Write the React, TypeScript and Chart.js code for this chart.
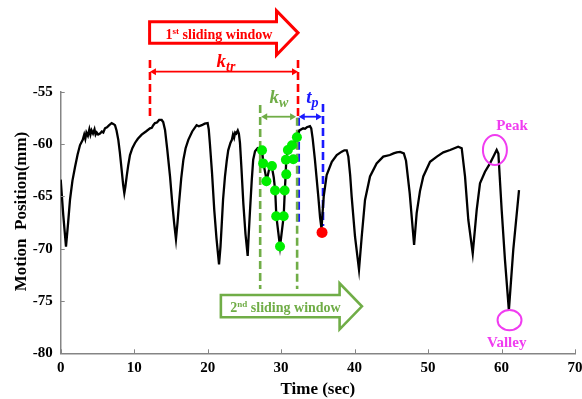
import React, { useEffect, useRef } from 'react';
import { Chart, registerables } from 'chart.js';
Chart.register(...registerables);

// ---- data ----
const timeSec = [
  0.0, 0.35, 0.72, 1.0, 1.27, 1.6, 1.95, 2.3, 2.63, 3.0, 3.2, 3.35, 3.5, 3.7, 3.9, 4.05, 4.2, 4.4, 4.6, 4.75,
  4.9, 5.1, 5.35, 5.6, 5.8, 6.03, 6.3, 6.6, 6.94, 7.2, 7.39, 7.6, 7.84, 8.05, 8.3, 8.5, 8.66, 8.8, 8.98, 9.2,
  9.43, 9.75, 10.11, 10.5, 11.02, 11.6, 12.15, 12.4, 12.6, 12.83, 13.1, 13.4, 13.74, 13.95, 14.2, 14.5, 14.88, 15.2, 15.45, 15.69,
  15.9, 16.1, 16.4, 16.7, 17.0, 17.37, 17.9, 18.5, 18.8, 19.2, 19.6, 20.0, 20.15, 20.3, 20.6, 20.9, 21.2, 21.55, 21.75, 21.9,
  22.1, 22.36, 22.6, 22.8, 23.1, 23.3, 23.45, 23.6, 23.75, 23.9, 24.1, 24.25, 24.4, 24.6, 24.86, 25.15, 25.45, 25.6, 25.77, 26.0,
  26.2, 26.45, 26.8, 27.1, 27.4, 27.58, 28.04, 28.4, 28.72, 29.0, 29.2, 29.35, 29.85, 30.35, 30.5, 30.62, 30.7, 30.9, 31.4, 31.8,
  32.1, 32.5, 33.0, 33.25, 33.5, 33.93, 34.1, 34.3, 34.6, 35.06, 35.3, 35.5, 35.65, 35.8, 36.2, 36.9, 37.57, 38.25, 38.6, 38.93,
  39.15, 39.4, 39.6, 40.06, 40.6, 40.97, 41.42, 42.1, 43.0, 43.9, 44.8, 45.3, 45.73, 46.2, 46.7, 47.0, 47.5, 48.1, 48.45, 48.9,
  49.35, 50.27, 51.2, 52.08, 53.0, 54.1, 54.58, 55.03, 55.48, 56.08, 56.62, 57.07, 57.75, 58.43, 58.9, 59.34, 59.57, 60.02, 60.47, 61.0,
  61.6, 62.38,
];
const positionMm = [
  -63.4, -66.8, -69.8, -67.6, -65.3, -63.5, -62.2, -61.0, -60.1, -59.6, -59.1, -59.5, -58.9, -59.2, -58.6, -59.1, -58.7, -59.0, -58.6, -59.1,
  -58.9, -59.1, -59.0, -58.8, -58.9, -58.5, -58.4, -58.2, -58.0, -58.1, -58.2, -58.7, -59.6, -60.8, -62.5, -63.9, -64.7, -64.1, -63.1, -62.0,
  -61.05, -60.4, -59.9, -59.5, -59.1, -58.8, -58.5, -58.45, -58.2, -58.0, -57.95, -57.7, -57.7, -57.9, -58.65, -60.5, -63.1, -65.8, -67.6, -69.1,
  -67.5, -65.7, -63.3, -61.5, -60.4, -59.6, -58.8, -58.2, -58.3, -58.2, -58.05, -58.0, -58.6, -59.9, -62.8, -66.3, -69.0, -71.5, -69.8, -67.9,
  -65.3, -63.1, -61.6, -60.6, -59.9, -59.6, -59.1, -59.4, -58.9, -59.0, -58.7, -59.0, -59.9, -62.3, -65.7, -68.6, -70.7, -68.5, -66.3, -63.5,
  -61.5, -60.7, -60.4, -60.5, -60.6, -61.8, -63.5, -62.3, -62.1, -63.2, -64.5, -66.9, -69.8, -66.9, -64.5, -62.9, -61.5, -60.6, -60.2, -59.9,
  -59.4, -58.7, -58.5, -58.55, -58.4, -58.3, -58.5, -59.5, -61.5, -65.0, -67.0, -68.1, -66.5, -65.0, -62.96, -61.7, -61.05, -60.73, -60.6, -60.6,
  -61.2, -63.0, -65.0, -68.86, -72.0, -68.86, -65.35, -63.1, -61.85, -61.2, -61.05, -60.9, -60.8, -60.75, -60.9, -61.6, -64.7, -69.65, -66.6, -64.5,
  -63.1, -61.7, -61.2, -60.8, -60.57, -60.25, -60.4, -63.1, -67.26, -70.45, -66.3, -63.75, -62.65, -61.85, -61.2, -60.57, -60.9, -66.3, -71.1, -75.9,
  -70.1, -64.4,
];
const windowTime = [27.4, 27.55, 28.0, 28.75, 29.17, 29.33, 30.35, 29.85, 30.48, 30.7, 30.65, 31.66, 30.92, 31.48, 32.15];
const windowPos = [-60.6, -61.85, -63.55, -62.1, -64.45, -66.9, -66.9, -69.8, -64.45, -62.9, -61.5, -61.45, -60.57, -60.12, -59.35];
const predTime = [35.57];
const predPos = [-68.45];
const xTickValues = [0, 10, 20, 30, 40, 50, 60, 70];
const yTickValues = [-80, -75, -70, -65, -60, -55];

// ---- annotation geometry in data units ----
const trainWin = { start: 12.15, end: 32.3, lineTop: -51.97, lineBottom: -57.45, arrowY: -53.09, labelX: 22.5, labelY: -52.6 };
const kwWin = { start: 27.15, end: 32.18, top: -56.27, rightTop: -57.5, bottom: -73.86, arrowY: -57.39, labelX: 29.7, labelY: -56.1 };
const tpWin = { start: 32.4, end: 35.7, top: -56.18, leftTop: -57.5, bottom: -67.84, leftBottom: -67.47, labelX: 34.25, labelY: -56.1 };
const bigArrow1 = { left: 12.1, right: 29.37, tip: 32.31, top: -48.31, bottom: -50.37, headTop: -47.26, headBottom: -51.49, textX: 21.55, textY: -49.92 };
const bigArrow2 = { left: 21.8, right: 37.96, tip: 41.0, top: -74.43, bottom: -76.56, headTop: -73.31, headBottom: -77.71, textX: 30.6, textY: -76.02 };
const peakMark = { cx: 59.1, cy: -60.57, rx: 1.63, ry: 1.43, textX: 61.43, textY: -58.67 };
const valleyMark = { cx: 61.09, cy: -76.83, rx: 1.63, ry: 0.96, textX: 60.7, textY: -79.43 };
const yTitleCenter = -66.45;

const SERIF = "'Liberation Serif', 'Times New Roman', serif";
const RED = '#FF0000';
const GREEN = '#70AD47';
const BLUE = '#1A1AFF';
const MAGENTA = '#F03CF0';

type Part = { t: string; size: number; dy: number; italic?: boolean };

function richText(ctx: CanvasRenderingContext2D, parts: Part[], cx: number, baseY: number, color: string) {
  const font = (p: Part) => `${p.italic ? 'italic ' : ''}bold ${p.size}px ${SERIF}`;
  let total = 0;
  const widths = parts.map((p) => { ctx.font = font(p); const w = ctx.measureText(p.t).width; total += w; return w; });
  let x = cx - total / 2;
  ctx.fillStyle = color;
  ctx.textAlign = 'left';
  ctx.textBaseline = 'alphabetic';
  parts.forEach((p, i) => { ctx.font = font(p); ctx.fillText(p.t, x, baseY + p.dy); x += widths[i]; });
}

function dashedV(ctx: CanvasRenderingContext2D, x: number, y1: number, y2: number, color: string) {
  ctx.save();
  ctx.strokeStyle = color;
  ctx.lineWidth = 2.6;
  ctx.setLineDash([8, 4]);
  ctx.beginPath();
  ctx.moveTo(x, y1);
  ctx.lineTo(x, y2);
  ctx.stroke();
  ctx.restore();
}

function doubleArrow(ctx: CanvasRenderingContext2D, x1: number, x2: number, y: number, color: string) {
  const hl = 6, hw = 3.5;
  ctx.save();
  ctx.strokeStyle = color;
  ctx.fillStyle = color;
  ctx.lineWidth = 1.8;
  ctx.beginPath();
  ctx.moveTo(x1 + hl - 1, y);
  ctx.lineTo(x2 - hl + 1, y);
  ctx.stroke();
  ctx.beginPath();
  ctx.moveTo(x1, y); ctx.lineTo(x1 + hl, y - hw); ctx.lineTo(x1 + hl, y + hw); ctx.closePath(); ctx.fill();
  ctx.beginPath();
  ctx.moveTo(x2, y); ctx.lineTo(x2 - hl, y - hw); ctx.lineTo(x2 - hl, y + hw); ctx.closePath(); ctx.fill();
  ctx.restore();
}

function blockArrow(ctx: CanvasRenderingContext2D, a: typeof bigArrow1, X: (v: number) => number, Y: (v: number) => number, color: string, lw: number) {
  const L = X(a.left), R = X(a.right), T = X(a.tip);
  const top = Y(a.top), bot = Y(a.bottom), ht = Y(a.headTop), hb = Y(a.headBottom);
  const mid = (ht + hb) / 2;
  ctx.save();
  ctx.beginPath();
  ctx.moveTo(L, top); ctx.lineTo(R, top); ctx.lineTo(R, ht); ctx.lineTo(T, mid); ctx.lineTo(R, hb); ctx.lineTo(R, bot); ctx.lineTo(L, bot);
  ctx.closePath();
  ctx.fillStyle = '#ffffff';
  ctx.fill();
  ctx.lineJoin = 'miter';
  ctx.lineWidth = lw;
  ctx.strokeStyle = color;
  ctx.stroke();
  ctx.restore();
}

const annotationPlugin = {
  id: 'annotations',
  beforeDatasetsDraw(chart: any) {
    const { ctx, scales: { x, y } } = chart;
    const X = (v: number) => x.getPixelForValue(v);
    const Y = (v: number) => y.getPixelForValue(v);
    dashedV(ctx, X(trainWin.start), Y(trainWin.lineTop), Y(trainWin.lineBottom), RED);
    dashedV(ctx, X(kwWin.start), Y(kwWin.top), Y(kwWin.bottom), GREEN);
    dashedV(ctx, X(tpWin.start), Y(tpWin.leftTop), Y(tpWin.leftBottom), BLUE);
    dashedV(ctx, X(kwWin.end), Y(kwWin.rightTop), Y(kwWin.bottom), GREEN);
    dashedV(ctx, X(trainWin.end), Y(trainWin.lineTop), Y(trainWin.lineBottom), RED);
    dashedV(ctx, X(tpWin.end), Y(tpWin.top), Y(tpWin.bottom), BLUE);
  },
  afterDatasetsDraw(chart: any) {
    const { ctx, chartArea, scales: { x, y } } = chart;
    const X = (v: number) => x.getPixelForValue(v);
    const Y = (v: number) => y.getPixelForValue(v);
    ctx.save();
    // inward tick marks
    ctx.strokeStyle = '#858585';
    ctx.lineWidth = 1;
    xTickValues.forEach((v) => {
      const px = Math.round(X(v)) + 0.5;
      ctx.beginPath(); ctx.moveTo(px, chartArea.bottom); ctx.lineTo(px, chartArea.bottom - 4); ctx.stroke();
    });
    yTickValues.forEach((v) => {
      const py = Math.round(Y(v)) + 0.5;
      ctx.beginPath(); ctx.moveTo(chartArea.left, py); ctx.lineTo(chartArea.left + 4, py); ctx.stroke();
    });

    // y-axis title
    ctx.save();
    ctx.translate(chartArea.left - 39, Y(yTitleCenter));
    ctx.rotate(-Math.PI / 2);
    ctx.font = `bold 17px ${SERIF}`;
    ctx.fillStyle = '#000';
    ctx.textAlign = 'center';
    ctx.textBaseline = 'middle';
    ctx.fillText('Motion  Position(mm)', 0, 0);
    ctx.restore();

    // double arrows + labels
    doubleArrow(ctx, X(trainWin.start), X(trainWin.end), Y(trainWin.arrowY), RED);
    doubleArrow(ctx, X(kwWin.start) + 1, X(kwWin.end) - 1, Y(kwWin.arrowY), GREEN);
    doubleArrow(ctx, X(tpWin.start), X(tpWin.end) - 1, Y(kwWin.arrowY), BLUE);
    richText(ctx, [{ t: 'k', size: 19, dy: 0, italic: true }, { t: 'tr', size: 14, dy: 4, italic: true }], X(trainWin.labelX), Y(trainWin.labelY), RED);
    richText(ctx, [{ t: 'k', size: 19, dy: 0, italic: true }, { t: 'w', size: 14, dy: 4, italic: true }], X(kwWin.labelX), Y(kwWin.labelY), GREEN);
    richText(ctx, [{ t: 't', size: 19, dy: 0, italic: true }, { t: 'p', size: 14, dy: 4, italic: true }], X(tpWin.labelX), Y(tpWin.labelY), BLUE);

    // block arrows
    blockArrow(ctx, bigArrow1, X, Y, RED, 3);
    richText(ctx, [{ t: '1', size: 14, dy: 0 }, { t: 'st', size: 9, dy: -5 }, { t: ' sliding window', size: 14, dy: 0 }], X(bigArrow1.textX), Y(bigArrow1.textY), RED);
    blockArrow(ctx, bigArrow2, X, Y, GREEN, 2.6);
    richText(ctx, [{ t: '2', size: 14, dy: 0 }, { t: 'nd', size: 9, dy: -5 }, { t: ' sliding window', size: 14, dy: 0 }], X(bigArrow2.textX), Y(bigArrow2.textY), GREEN);

    // peak / valley
    ctx.strokeStyle = MAGENTA;
    ctx.lineWidth = 2;
    [peakMark, valleyMark].forEach((m) => {
      const cx = X(m.cx), cy = Y(m.cy);
      const rx = Math.abs(X(m.cx + m.rx) - cx), ry = Math.abs(Y(m.cy + m.ry) - cy);
      ctx.beginPath(); ctx.ellipse(cx, cy, rx, ry, 0, 0, Math.PI * 2); ctx.stroke();
    });
    richText(ctx, [{ t: 'Peak', size: 15, dy: 0 }], X(peakMark.textX), Y(peakMark.textY), MAGENTA);
    richText(ctx, [{ t: 'Valley', size: 15, dy: 0 }], X(valleyMark.textX), Y(valleyMark.textY), MAGENTA);
    ctx.restore();
  },
};

export default function App() {
  const ref = useRef<HTMLCanvasElement | null>(null);
  useEffect(() => {
    if (!ref.current) return;
    const H = 399;
    const chartLeft = 60.7, chartTop = 91.7, chartBottom = 353.3, rightGap = 7;
    const chart = new Chart(ref.current, {
      type: 'line',
      data: {
        datasets: [
          {
            type: 'scatter',
            data: predTime.map((t, i) => ({ x: t, y: predPos[i] })),
            pointRadius: 5.5,
            pointBackgroundColor: RED,
            pointBorderWidth: 0,
            order: 0,
          } as any,
          {
            type: 'scatter',
            data: windowTime.map((t, i) => ({ x: t, y: windowPos[i] })),
            pointRadius: 5,
            pointBackgroundColor: '#00EE00',
            pointBorderWidth: 0,
            order: 1,
          } as any,
          {
            data: timeSec.map((t, i) => ({ x: t, y: positionMm[i] })),
            borderColor: '#000000',
            borderWidth: 2.3,
            pointRadius: 0,
            tension: 0,
            fill: false,
            order: 2,
          },
        ],
      },
      options: {
        animation: false,
        responsive: false,
        devicePixelRatio: 1,
        events: [],
        layout: { padding: { left: 0, right: 0, top: chartTop, bottom: 0 } },
        plugins: { legend: { display: false }, tooltip: { enabled: false } },
        scales: {
          x: {
            type: 'linear',
            min: 0,
            max: 70,
            grid: { display: false, drawTicks: false },
            border: { display: true, color: '#858585', width: 1.5 },
            ticks: { stepSize: 10, padding: 6, color: '#000', font: { family: SERIF, size: 15, weight: 'bold' }, maxRotation: 0 },
            title: { display: true, text: 'Time (sec)', color: '#000', font: { family: SERIF, size: 17, weight: 'bold', lineHeight: 1.15 }, padding: 0 },
            afterFit: (s: any) => { s.height = H - chartBottom; s.paddingLeft = 0; s.paddingRight = rightGap; },
          },
          y: {
            type: 'linear',
            min: -80,
            max: -55,
            grid: { display: false, drawTicks: false },
            border: { display: true, color: '#858585', width: 1.5 },
            ticks: { stepSize: 5, padding: 8, color: '#000', font: { family: SERIF, size: 15, weight: 'bold' } },
            afterFit: (s: any) => { s.width = chartLeft; s.paddingTop = 0; s.paddingBottom = 0; },
          },
        },
      },
      plugins: [annotationPlugin],
    } as any);
    return () => chart.destroy();
  }, []);
  return (
    <div style={{ position: 'absolute', left: 0, top: 0, width: 582, height: 399, background: '#fff' }}>
      <canvas ref={ref} width={582} height={399} style={{ display: 'block', width: 582, height: 399 }} />
    </div>
  );
}
